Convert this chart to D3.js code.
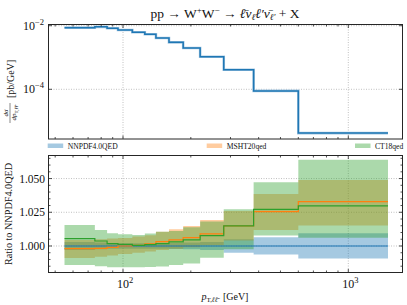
<!DOCTYPE html>
<html><head><meta charset="utf-8">
<script src="https://cdn.jsdelivr.net/npm/d3@7"></script>
<style>
html,body{margin:0;padding:0;background:#fff;}
svg{display:block;font-family:"Liberation Serif","Times New Roman",serif;}
</style></head>
<body>
<svg id="c" width="407" height="305"></svg>
<script>
// ---------------- data ----------------
const binEdges = [55, 75, 85, 95, 110, 125, 140, 160, 185, 220, 280, 380, 600, 1500];
const xsecNNPDF = [8.7e-3, 9.2e-3, 8.3e-3, 7.3e-3, 6.2e-3, 5.4e-3, 4.1e-3, 3.0e-3, 2.0e-3, 1.06e-3, 4.1e-4, 8.9e-5, 4.2e-6];

const nnpdfCentral = [1, 1, 1, 1, 1, 1, 1, 1, 1, 1, 1, 1, 1];
const nnpdfLo = [0.997, 0.9975, 0.998, 0.998, 0.998, 0.998, 0.998, 0.9978, 0.9975, 0.997, 0.995, 0.9937, 0.9907];
const nnpdfHi = [1.003, 1.0025, 1.002, 1.002, 1.002, 1.002, 1.002, 1.0022, 1.0025, 1.003, 1.005, 1.0064, 1.0094];

const mshtCentral = [0.998, 0.9983, 0.999, 1.000, 1.0005, 1.0015, 1.0032, 1.0045, 1.0062, 1.009, 1.0149, 1.0255, 1.0329];
const mshtLo = [0.991, 0.992, 0.993, 0.994, 0.995, 0.996, 0.997, 0.998, 0.999, 1.0005, 1.004, 1.0119, 1.0151];
const mshtHi = [1.0045, 1.005, 1.0055, 1.006, 1.007, 1.008, 1.0105, 1.0124, 1.0149, 1.0193, 1.026, 1.0386, 1.049];

const ct18Central = [1.0054, 1.0037, 1.0017, 1.0012, 1.0005, 1.001, 1.0017, 1.003, 1.0045, 1.0077, 1.0149, 1.0272, 1.0297];
const ct18Lo = [0.9859, 0.9849, 0.9843, 0.9842, 0.9842, 0.9844, 0.9847, 0.9859, 0.9871, 0.9912, 0.9975, 1.0077, 1.0062];
const ct18Hi = [1.0155, 1.0119, 1.0094, 1.0087, 1.0082, 1.0092, 1.0106, 1.0111, 1.0139, 1.0182, 1.0272, 1.0473, 1.0639];

const seriesNames = ["NNPDF4.0QED", "MSHT20qed", "CT18qed"];
const seriesColors = ["#1f77b4", "#ff7f0e", "#2ca02c"];

const xMajorTicks = [100, 1000];
const xMinorTicks = [50, 60, 70, 80, 90, 200, 300, 400, 500, 600, 700, 800, 900];
const topYTicks = [1e-2, 1e-4];
const ratioMajorTicks = [1.000, 1.025, 1.050];
const ratioMinorTicks = [0.985, 0.990, 0.995, 1.005, 1.010, 1.015, 1.020, 1.030, 1.035, 1.040, 1.045, 1.055, 1.060, 1.065];

// ---------------- layout ----------------
const svg = d3.select("#c");
const L = 48.5, R = 402.5;
const topP = {t: 24.5, b: 139};
const botP = {t: 155.5, b: 272.5};
const frame = "#262626";

const x = d3.scaleLog().domain([46.7, 1740]).range([L, R]);
const yTop = d3.scaleLog().domain([Math.pow(10, -5.563), Math.pow(10, -1.962)]).range([topP.b, topP.t]);
const yBot = d3.scaleLinear().domain([0.98034, 1.0671]).range([botP.b, botP.t]);

function stepPts(vals){ return binEdges.map((e,i)=>[e, vals[Math.min(i, vals.length-1)]]); }
function bandPts(lo, hi){ return binEdges.map((e,i)=>({x:e, lo:lo[Math.min(i, lo.length-1)], hi:hi[Math.min(i, hi.length-1)]})); }

function grid(g, p, yMaj, ys){
  const gg = g.append("g").attr("stroke","#b0b0b0").attr("stroke-width",0.8).attr("stroke-dasharray","1,1.5");
  xMajorTicks.forEach(t=>gg.append("line").attr("x1",x(t)).attr("x2",x(t)).attr("y1",p.t).attr("y2",p.b));
  yMaj.forEach(t=>gg.append("line").attr("x1",L).attr("x2",R).attr("y1",ys(t)).attr("y2",ys(t)));
}
function ticks(g, p, ys, yMaj, yMin){
  const tg = g.append("g").attr("stroke",frame).attr("stroke-width",0.8);
  xMajorTicks.forEach(t=>{
    tg.append("line").attr("x1",x(t)).attr("x2",x(t)).attr("y1",p.b).attr("y2",p.b-3.5);
    tg.append("line").attr("x1",x(t)).attr("x2",x(t)).attr("y1",p.t).attr("y2",p.t+3.5);
  });
  xMinorTicks.forEach(t=>{
    tg.append("line").attr("x1",x(t)).attr("x2",x(t)).attr("y1",p.b).attr("y2",p.b-2);
    tg.append("line").attr("x1",x(t)).attr("x2",x(t)).attr("y1",p.t).attr("y2",p.t+2);
  });
  yMaj.forEach(t=>{
    tg.append("line").attr("x1",L).attr("x2",L+3.5).attr("y1",ys(t)).attr("y2",ys(t));
    tg.append("line").attr("x1",R).attr("x2",R-3.5).attr("y1",ys(t)).attr("y2",ys(t));
  });
  yMin.forEach(t=>{
    tg.append("line").attr("x1",L).attr("x2",L+2).attr("y1",ys(t)).attr("y2",ys(t));
    tg.append("line").attr("x1",R).attr("x2",R-2).attr("y1",ys(t)).attr("y2",ys(t));
  });
  g.append("rect").attr("x",L).attr("y",p.t).attr("width",R-L).attr("height",p.b-p.t)
   .attr("fill","none").attr("stroke",frame).attr("stroke-width",1);
}

// ---------------- top panel ----------------
const gt = svg.append("g");
grid(gt, topP, topYTicks, yTop);
const stepLine = d3.line().x(d=>x(d[0])).y(d=>yTop(d[1])).curve(d3.curveStepAfter);
gt.append("path").attr("d", stepLine(stepPts(xsecNNPDF)))
  .attr("fill","none").attr("stroke","#a6c8e2").attr("stroke-width",2.6);
gt.append("path").attr("d", stepLine(stepPts(xsecNNPDF)))
  .attr("fill","none").attr("stroke",seriesColors[0]).attr("stroke-width",1.5);
ticks(gt, topP, yTop, topYTicks, []);

// y tick labels top (10^-2, 10^-4)
topYTicks.forEach(t=>{
  const e = Math.round(Math.log10(t));
  const tx = svg.append("text").attr("x",44).attr("y",yTop(t)+4).attr("text-anchor","end")
    .attr("font-size",12).attr("fill","#111");
  tx.append("tspan").text("10");
  tx.append("tspan").attr("font-size",8.5).attr("dy",-5).text("\u2212"+Math.abs(e));
});

// top y label (fraction)
const yl = svg.append("g").attr("transform","translate(10,82) rotate(-90)").attr("fill","#111");
yl.append("text").attr("x",-31).attr("y",-1.8).attr("text-anchor","middle").attr("font-size",7)
  .append("tspan").attr("font-style","italic").text("d\u03c3");
const den = yl.append("text").attr("x",-31).attr("y",6.4).attr("text-anchor","middle").attr("font-size",7);
den.append("tspan").attr("font-style","italic").text("dp");
den.append("tspan").attr("font-size",5).attr("dy",1.5).text("T,");
den.append("tspan").attr("font-size",5).attr("font-style","italic").text("\u2113\u2113\u0304");
yl.append("line").attr("x1",-41).attr("x2",-21).attr("y1",0).attr("y2",0).attr("stroke","#111").attr("stroke-width",0.5);
yl.append("text").attr("x",-16).attr("y",3.5).attr("font-size",10).text("[pb/GeV]");

// title
const title = svg.append("text").attr("x",225).attr("y",17.5).attr("text-anchor","middle")
  .attr("font-size",13.5).attr("fill","#111");
title.append("tspan").text("pp \u2192 W");
title.append("tspan").attr("font-size",9).attr("dy",-5).text("+");
title.append("tspan").attr("dy",5).text("W");
title.append("tspan").attr("font-size",9).attr("dy",-5).text("\u2212");
title.append("tspan").attr("dy",5).text(" \u2192 ");
title.append("tspan").attr("font-style","italic").text("\u2113\u0304\u03bd");
title.append("tspan").attr("font-size",9).attr("font-style","italic").attr("dy",2.5).text("\u2113");
title.append("tspan").attr("font-style","italic").attr("dy",-2.5).text("\u2113\u2032\u03bd\u0304");
title.append("tspan").attr("font-size",9).attr("font-style","italic").attr("dy",2.5).text("\u2113\u2032");
title.append("tspan").attr("dy",-2.5).text(" + X");

// ---------------- legend ----------------
const legX = [47.7, 206.7, 355];
seriesNames.forEach((n,i)=>{
  svg.append("rect").attr("x",legX[i]).attr("y",143.5).attr("width",15.5).attr("height",4.5)
    .attr("fill",seriesColors[i]).attr("fill-opacity",0.4);
  svg.append("text").attr("x",legX[i]+20).attr("y",148.5).attr("font-size",7.6).attr("fill","#111").text(n);
});

// ---------------- ratio panel ----------------
const gb = svg.append("g");
grid(gb, botP, ratioMajorTicks, yBot);
const area = d3.area().x(d=>x(d.x)).y0(d=>yBot(d.lo)).y1(d=>yBot(d.hi)).curve(d3.curveStepAfter);
const bands = [[nnpdfLo,nnpdfHi],[mshtLo,mshtHi],[ct18Lo,ct18Hi]];
bands.forEach((b,i)=>{
  gb.append("path").attr("d", area(bandPts(b[0],b[1]))).attr("fill",seriesColors[i]).attr("fill-opacity",0.4);
});
const rLine = d3.line().x(d=>x(d[0])).y(d=>yBot(d[1])).curve(d3.curveStepAfter);
[nnpdfCentral, mshtCentral, ct18Central].forEach((c,i)=>{
  gb.append("path").attr("d", rLine(stepPts(c))).attr("fill","none")
    .attr("stroke",seriesColors[i]).attr("stroke-width",1.2);
});
ticks(gb, botP, yBot, ratioMajorTicks, ratioMinorTicks);

ratioMajorTicks.forEach(t=>{
  svg.append("text").attr("x",45).attr("y",yBot(t)+4).attr("text-anchor","end")
    .attr("font-size",11.5).attr("fill","#111").text(d3.format(".3f")(t));
});
xMajorTicks.forEach(t=>{
  const e = Math.round(Math.log10(t));
  const tx = svg.append("text").attr("x",x(t)+2).attr("y",288).attr("text-anchor","middle")
    .attr("font-size",12).attr("fill","#111");
  tx.append("tspan").text("10");
  tx.append("tspan").attr("font-size",8.5).attr("dy",-5).text(e);
});

// axis labels
svg.append("text").attr("transform","translate(12,214) rotate(-90)").attr("text-anchor","middle")
  .attr("font-size",10.2).attr("fill","#111").text("Ratio to NNPDF4.0QED");
const xl = svg.append("text").attr("x",225).attr("y",300).attr("text-anchor","middle")
  .attr("font-size",10).attr("fill","#111");
xl.append("tspan").attr("font-style","italic").text("p");
xl.append("tspan").attr("font-size",7).attr("dy",2).text("T,");
xl.append("tspan").attr("font-size",7).attr("font-style","italic").text("\u2113\u2113\u0304");
xl.append("tspan").attr("dy",-2).text("\u2002[GeV]");
</script>
</body></html>
